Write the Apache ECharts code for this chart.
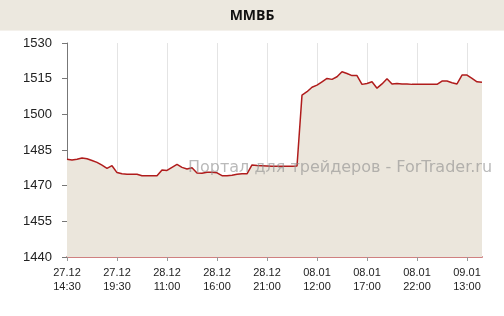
<!DOCTYPE html>
<html>
<head>
<meta charset="utf-8">
<script src="https://cdn.jsdelivr.net/npm/echarts@6/dist/echarts.min.js"></script>
<style>html,body{margin:0;padding:0;background:#fff}#c{width:504px;height:316px}</style>
</head>
<body>
<div id="c"></div>
<script>
var titleText = 'ММВБ';
var watermarkText = 'Портал для трейдеров - ForTrader.ru';
var tickLabels = ['27.12\n14:30','27.12\n19:30','28.12\n11:00','28.12\n16:00','28.12\n21:00','08.01\n12:00','08.01\n17:00','08.01\n22:00','09.01\n13:00'];
var values = [
 1481.1,1480.8,1481.1,1481.6,1481.3,1480.6,1479.8,1478.6,1477.3,1478.4,
 1475.5,1475.0,1474.8,1474.8,1474.8,1474.2,1474.2,1474.2,1474.2,1476.6,
 1476.4,1477.7,1479.0,1477.7,1477.0,1477.5,1475.3,1475.2,1475.6,1475.6,
 1475.4,1474.2,1474.2,1474.4,1474.8,1475.0,1475.0,1478.7,1478.5,1478.4,
 1478.3,1478.2,1478.2,1478.2,1478.2,1478.2,1478.3,1508.1,1509.5,1511.4,
 1512.3,1513.7,1515.1,1514.7,1515.8,1517.9,1517.2,1516.3,1516.3,1512.6,
 1513.0,1513.7,1511.0,1512.8,1515.0,1512.8,1513.0,1512.8,1512.8,1512.6,
 1512.6,1512.6,1512.6,1512.6,1512.6,1514.0,1514.0,1513.3,1512.8,1516.5,
 1516.5,1515.1,1513.7,1513.5
];
var categories = values.map(function(_, i){ return String(i); });

var chart = echarts.init(document.getElementById('c'));
chart.setOption({
  animation: false,
  backgroundColor: '#fff',
  graphic: [
    {type:'rect', shape:{x:0,y:0,width:504,height:31}, style:{fill:'#ece8df'}, z:0},
    {type:'rect', shape:{x:0,y:30,width:504,height:1}, style:{fill:'#f4f1ec'}, z:0},
    {type:'text', x:252, y:16, style:{text:titleText, font:'bold 14px "Open Sans", sans-serif', fill:'#111', align:'center', verticalAlign:'middle'}, z:10},
    {type:'text', x:188, y:168, style:{text:watermarkText, font:'16px "DejaVu Sans", sans-serif', fill:'rgba(140,140,140,0.6)', align:'left', verticalAlign:'middle'}, z:100}
  ],
  grid: {left:67, right:22, top:43, bottom:59},
  xAxis: {
    type:'category', data:categories, boundaryGap:false,
    axisLine:{show:true, lineStyle:{color:'#cf8080', width:2}},
    axisTick:{show:true, interval:9, length:4, lineStyle:{color:'#999'}},
    splitLine:{show:true, interval:9, lineStyle:{color:'#e4e4e4', width:1}},
    axisLabel:{interval:9, margin:9, color:'#222', fontSize:11, fontFamily:'"Liberation Sans", sans-serif', lineHeight:14,
      formatter:function(v, i){ return (i % 10 === 0) ? tickLabels[i/10] : ''; }}
  },
  yAxis: {
    type:'value', min:1440, max:1530, interval:15,
    axisLine:{show:true, lineStyle:{color:'#777', width:1}},
    axisTick:{show:true, length:5, lineStyle:{color:'#777'}},
    splitLine:{show:false},
    axisLabel:{margin:15, color:'#222', fontSize:13, fontFamily:'"Liberation Sans", sans-serif',
      formatter:function(v){ return String(v); }}
  },
  series: [{
    type:'line', data:values, symbol:'none', smooth:false,
    lineStyle:{color:'#b01c1c', width:1.5},
    areaStyle:{color:'#ebe6dc', opacity:1, origin:'start'},
    z:5
  }]
});
</script>
</body>
</html>
